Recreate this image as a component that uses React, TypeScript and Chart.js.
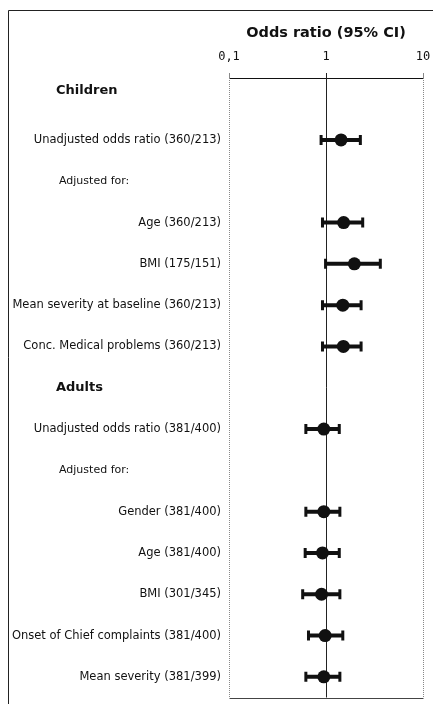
import React, { useEffect, useRef } from "react";
import { Chart, registerables } from "chart.js";

Chart.register(...registerables);

// Row layout (top to bottom)
const rowLabels = [
  "Children",
  "Unadjusted odds ratio (360/213)",
  "Adjusted for:",
  "Age (360/213)",
  "BMI (175/151)",
  "Mean severity at baseline (360/213)",
  "Conc. Medical problems (360/213)",
  "Adults",
  "Unadjusted odds ratio (381/400)",
  "Adjusted for:",
  "Gender (381/400)",
  "Age (381/400)",
  "BMI (301/345)",
  "Onset of Chief complaints (381/400)",
  "Mean severity (381/399)",
];
const rowKinds = [
  "header", "item", "sub", "item", "item", "item", "item",
  "header", "item", "sub", "item", "item", "item", "item", "item",
];
const rowPositions = [0.3, 1.5, 2.5, 3.5, 4.5, 5.5, 6.5, 7.5, 8.5, 9.5, 10.5, 11.5, 12.5, 13.5, 14.5];

// Estimates (item rows only, in order)
const estimateRows = [1.5, 3.5, 4.5, 5.5, 6.5, 8.5, 10.5, 11.5, 12.5, 13.5, 14.5];
const oddsRatios = [1.43, 1.52, 1.96, 1.49, 1.51, 0.95, 0.95, 0.92, 0.9, 0.98, 0.95];
const ciLower = [0.89, 0.92, 0.99, 0.92, 0.92, 0.62, 0.62, 0.61, 0.575, 0.66, 0.62];
const ciUpper = [2.26, 2.39, 3.63, 2.3, 2.3, 1.37, 1.39, 1.37, 1.39, 1.49, 1.39];

// Axis
const xTicks = [0.1, 1, 10];
const xTickLabels = ["0,1", "1", "10"];
const axisTitle = "Odds ratio (95% CI)";

const INK = "#111";

const framePlugin = {
  id: "framePlugin",
  beforeDatasetsDraw(chart: any) {
    const { ctx, chartArea, scales } = chart;
    const x = scales.x;
    ctx.save();
    // outer frame
    ctx.strokeStyle = "#222";
    ctx.lineWidth = 1;
    ctx.beginPath();
    ctx.moveTo(8.5, chart.height);
    ctx.lineTo(8.5, 10.5);
    ctx.lineTo(chart.width, 10.5);
    ctx.stroke();
    // dotted side borders
    ctx.strokeStyle = "#888";
    ctx.setLineDash([1, 1]);
    ctx.beginPath();
    const xl = Math.round(x.getPixelForValue(xTicks[0])) + 0.5;
    const xr = Math.round(x.getPixelForValue(xTicks[2])) + 0.5;
    ctx.moveTo(xl, chartArea.top);
    ctx.lineTo(xl, chartArea.bottom);
    ctx.moveTo(xr, chartArea.top);
    ctx.lineTo(xr, chartArea.bottom);
    ctx.stroke();
    ctx.setLineDash([]);
    // bottom line
    ctx.strokeStyle = "#444";
    ctx.beginPath();
    ctx.moveTo(xl, Math.round(chartArea.bottom) + 0.5);
    ctx.lineTo(xr, Math.round(chartArea.bottom) + 0.5);
    ctx.stroke();
    // reference line at 1
    const x1 = Math.round(x.getPixelForValue(1)) + 0.5;
    ctx.strokeStyle = "#222";
    ctx.beginPath();
    ctx.moveTo(x1, chartArea.top);
    ctx.lineTo(x1, chartArea.bottom);
    ctx.stroke();

    // error bars
    const y = scales.y;
    ctx.strokeStyle = INK;
    estimateRows.forEach((row, i) => {
      const py = y.getPixelForValue(row);
      const lo = x.getPixelForValue(ciLower[i]);
      const hi = x.getPixelForValue(ciUpper[i]);
      ctx.lineWidth = 4;
      ctx.beginPath();
      ctx.moveTo(lo, py);
      ctx.lineTo(hi, py);
      ctx.stroke();
      ctx.lineWidth = 3;
      ctx.beginPath();
      ctx.moveTo(lo, py - 5);
      ctx.lineTo(lo, py + 5);
      ctx.moveTo(hi, py - 5);
      ctx.lineTo(hi, py + 5);
      ctx.stroke();
    });
    ctx.restore();
  },
  afterDraw(chart: any) {
    const { ctx, scales } = chart;
    const y = scales.y;
    ctx.save();
    ctx.fillStyle = INK;
    ctx.textBaseline = "middle";
    ctx.textAlign = "left";
    rowLabels.forEach((label, i) => {
      const py = y.getPixelForValue(rowPositions[i]);
      if (rowKinds[i] === "header") {
        ctx.font = "bold 13px 'DejaVu Sans'";
        ctx.fillText(label, 56, py);
      } else if (rowKinds[i] === "sub") {
        ctx.font = "11px 'DejaVu Sans'";
        ctx.fillText(label, 59, py);
      }
    });
    ctx.restore();
  },
};

export default function App() {
  const ref = useRef<HTMLCanvasElement | null>(null);
  useEffect(() => {
    if (!ref.current) return;
    const chart = new Chart(ref.current, {
      type: "scatter",
      data: {
        datasets: [
          {
            data: estimateRows.map((row, i) => ({ x: oddsRatios[i], y: row })),
            backgroundColor: INK,
            borderWidth: 0,
            pointRadius: 6.5,
            pointHoverRadius: 6.5,
          },
        ],
      },
      options: {
        responsive: false,
        animation: false,
        layout: { padding: { left: 0, right: 10, top: 0, bottom: 5 } },
        plugins: { legend: { display: false }, tooltip: { enabled: false } },
        scales: {
          x: {
            type: "logarithmic",
            position: "top",
            min: 0.1,
            max: 10,
            afterBuildTicks: (scale: any) => {
              scale.ticks = xTicks.map((v) => ({ value: v }));
            },
            afterFit: (scale: any) => {
              scale.height = 78;
              scale.paddingLeft = 0;
              scale.paddingRight = 0;
            },
            ticks: {
              autoSkip: false,
              maxRotation: 0,
              padding: 9,
              color: INK,
              font: { family: "'DejaVu Sans Mono'", size: 12 },
              callback: (value: any) => {
                const idx = xTicks.findIndex((t) => Math.abs(t - Number(value)) < 1e-9);
                return idx >= 0 ? xTickLabels[idx] : "";
              },
            },
            grid: {
              display: true,
              drawOnChartArea: false,
              drawTicks: true,
              tickLength: 5,
              color: (ctx: any) => (ctx.tick && ctx.tick.value === 1 ? "#222" : "#888"),
            },
            border: { display: true, color: "#111", width: 1 },
            title: {
              display: true,
              text: axisTitle,
              color: INK,
              font: { family: "'DejaVu Sans'", size: 14.5, weight: "bold" },
              padding: { top: 25, bottom: 0 },
            },
          },
          y: {
            type: "linear",
            reverse: true,
            min: 0,
            max: 15,
            afterBuildTicks: (scale: any) => {
              scale.ticks = rowPositions.map((v) => ({ value: v }));
            },
            afterFit: (scale: any) => {
              scale.width = 229;
              scale.paddingTop = 0;
              scale.paddingBottom = 0;
            },
            ticks: {
              autoSkip: false,
              padding: 8,
              color: INK,
              font: { family: "'DejaVu Sans'", size: 11.5 },
              callback: (value: any) => {
                const idx = rowPositions.findIndex((p) => Math.abs(p - Number(value)) < 1e-9);
                return idx >= 0 && rowKinds[idx] === "item" ? rowLabels[idx] : "";
              },
            },
            grid: { display: false, drawTicks: false },
            border: { display: false },
          },
        },
      },
      plugins: [framePlugin],
    });
    return () => chart.destroy();
  }, []);
  return (
    <div style={{ position: "fixed", left: 0, top: 0, width: 433, height: 704, background: "#fff" }}>
      <canvas ref={ref} width={433} height={704} style={{ display: "block" }} />
    </div>
  );
}
